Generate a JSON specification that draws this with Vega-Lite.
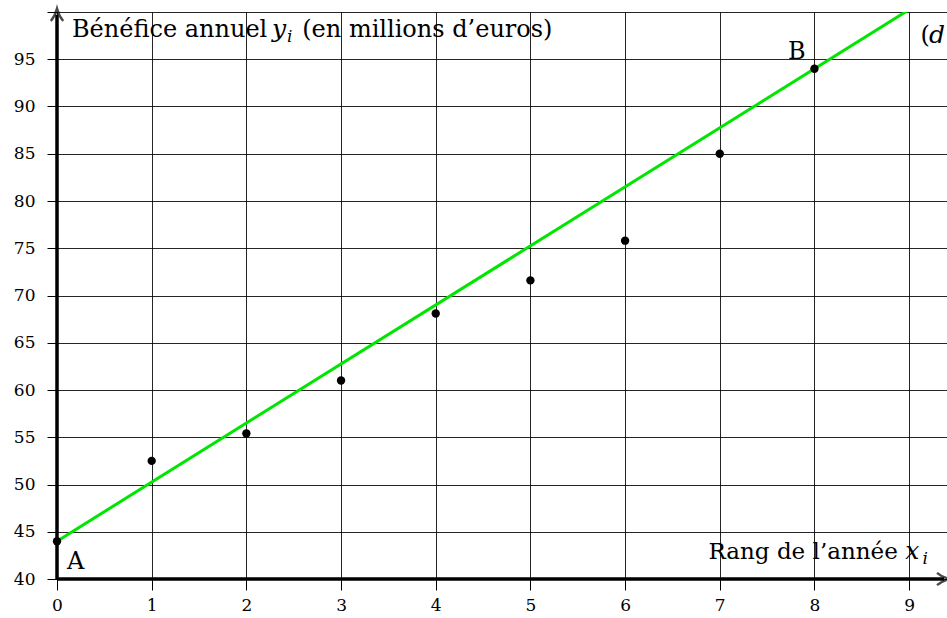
{
  "$schema": "https://vega.github.io/schema/vega-lite/v6.json",
  "width": 890,
  "height": 567,
  "autosize": {"type": "none"},
  "padding": {"left": 57, "top": 12, "right": 0, "bottom": 39},
  "background": "white",
  "config": {
    "view": {"stroke": null},
    "font": "DejaVu Serif"
  },
  "datasets": {
    "points": [
      {"x": 0, "y": 44}, {"x": 1, "y": 52.5}, {"x": 2, "y": 55.4},
      {"x": 3, "y": 61}, {"x": 4, "y": 68.1}, {"x": 5, "y": 71.6},
      {"x": 6, "y": 75.8}, {"x": 7, "y": 85}, {"x": 8, "y": 94}
    ],
    "fit": [{"x": 0, "y": 44}, {"x": 9.4, "y": 102.75}],
    "normalText": [
      {"x": 0.106, "y": 41.06, "t": "A"},
      {"x": 7.72, "y": 95.03, "t": "B"},
      {"x": 9.12, "y": 96.75, "t": "("},
      {"x": 0.158, "y": 97.32, "t": "Bénéfice annuel"},
      {"x": 2.59, "y": 97.32, "t": "(en millions d’euros)"}
    ],
    "rightText": [
      {"x": 8.88, "y": 42.08, "t": "Rang de l’année"}
    ],
    "italicText": [
      {"x": 8.96, "y": 42.08, "t": "x"},
      {"x": 2.27, "y": 97.32, "t": "y"},
      {"x": 9.21, "y": 96.75, "t": "d"}
    ],
    "subText": [
      {"x": 2.43, "y": 96.85, "t": "i"},
      {"x": 9.14, "y": 41.6, "t": "i"}
    ]
  },
  "layer": [
    {
      "data": {"name": "points"},
      "mark": {"type": "point", "opacity": 0},
      "encoding": {
        "x": {
          "field": "x", "type": "quantitative",
          "scale": {"domain": [0, 9.4], "nice": false, "zero": false},
          "axis": {
            "title": null, "values": [0, 1, 2, 3, 4, 5, 6, 7, 8, 9], "format": "d",
            "grid": true, "gridColor": "#000000", "gridWidth": 1, "gridOpacity": 0.85,
            "domain": false, "ticks": true, "tickSize": 11, "tickColor": "#000000", "tickWidth": 1,
            "labelFont": "DejaVu Serif", "labelFontSize": 17, "labelColor": "#000000",
            "labelPadding": 7, "labelFlush": false
          }
        },
        "y": {
          "field": "y", "type": "quantitative",
          "scale": {"domain": [40, 100], "nice": false, "zero": false},
          "axis": {
            "title": null, "values": [40, 45, 50, 55, 60, 65, 70, 75, 80, 85, 90, 95, 100],
            "grid": true, "gridColor": "#000000", "gridWidth": 1, "gridOpacity": 0.85,
            "domain": false, "ticks": true, "tickSize": 10, "tickColor": "#000000", "tickWidth": 1,
            "labelFont": "DejaVu Serif", "labelFontSize": 17, "labelColor": "#000000",
            "labelPadding": 12, "labelExpr": "datum.value == 100 ? '' : datum.label"
          }
        }
      }
    },
    {
      "data": {"name": "fit"},
      "mark": {"type": "line", "color": "#00e600", "strokeWidth": 3, "clip": true},
      "encoding": {
        "x": {"field": "x", "type": "quantitative"},
        "y": {"field": "y", "type": "quantitative"}
      }
    },
    {
      "data": {"values": [{"x": 0, "x2": 9.37, "y": 40}]},
      "mark": {"type": "rule", "color": "#000000", "strokeWidth": 3.5},
      "encoding": {
        "x": {"field": "x", "type": "quantitative"},
        "x2": {"field": "x2"},
        "y": {"field": "y", "type": "quantitative"}
      }
    },
    {
      "data": {"values": [{"x": 0, "y": 40, "y2": 99.7}]},
      "mark": {"type": "rule", "color": "#000000", "strokeWidth": 3.5},
      "encoding": {
        "x": {"field": "x", "type": "quantitative"},
        "y": {"field": "y", "type": "quantitative"},
        "y2": {"field": "y2"}
      }
    },
    {
      "data": {"values": [{"x": 0, "y": 99.7, "a": 0}, {"x": 9.36, "y": 40, "a": 90}]},
      "mark": {"type": "point", "shape": "M-0.9,0.9 Q-0.3,0.2 0,-0.9 Q0.3,0.2 0.9,0.9", "filled": false, "stroke": "#000000", "strokeWidth": 2.4, "size": 190, "clip": false},
      "encoding": {
        "x": {"field": "x", "type": "quantitative"},
        "y": {"field": "y", "type": "quantitative"},
        "angle": {"field": "a", "type": "quantitative", "scale": null}
      }
    },
    {
      "data": {"name": "points"},
      "mark": {"type": "circle", "color": "#000000", "opacity": 1, "size": 70},
      "encoding": {
        "x": {"field": "x", "type": "quantitative"},
        "y": {"field": "y", "type": "quantitative"}
      }
    },
    {
      "data": {"name": "normalText"},
      "mark": {"type": "text", "font": "DejaVu Serif", "fontSize": 24, "color": "#000000", "baseline": "alphabetic", "align": "left", "clip": true},
      "encoding": {
        "x": {"field": "x", "type": "quantitative"},
        "y": {"field": "y", "type": "quantitative"},
        "text": {"field": "t"}
      }
    },
    {
      "data": {"name": "rightText"},
      "mark": {"type": "text", "font": "DejaVu Serif", "fontSize": 23, "color": "#000000", "baseline": "alphabetic", "align": "right"},
      "encoding": {
        "x": {"field": "x", "type": "quantitative"},
        "y": {"field": "y", "type": "quantitative"},
        "text": {"field": "t"}
      }
    },
    {
      "data": {"name": "italicText"},
      "mark": {"type": "text", "font": "DejaVu Serif", "fontStyle": "italic", "fontSize": 25, "color": "#000000", "baseline": "alphabetic", "align": "left", "clip": true},
      "encoding": {
        "x": {"field": "x", "type": "quantitative"},
        "y": {"field": "y", "type": "quantitative"},
        "text": {"field": "t"}
      }
    },
    {
      "data": {"name": "subText"},
      "mark": {"type": "text", "font": "DejaVu Serif", "fontStyle": "italic", "fontSize": 17, "color": "#000000", "baseline": "alphabetic", "align": "left", "clip": true},
      "encoding": {
        "x": {"field": "x", "type": "quantitative"},
        "y": {"field": "y", "type": "quantitative"},
        "text": {"field": "t"}
      }
    }
  ]
}
